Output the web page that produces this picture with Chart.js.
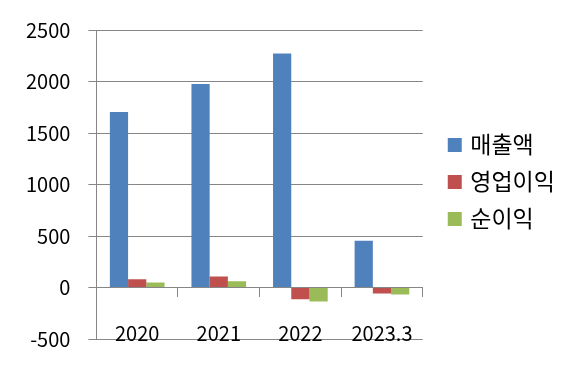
<!DOCTYPE html>
<html>
<head>
<meta charset="utf-8">
<script src="https://cdn.jsdelivr.net/npm/chart.js@4/dist/chart.umd.min.js"></script>
<style>
  html, body { margin: 0; padding: 0; background: #fff; }
  #wrap { width: 580px; height: 369px; }
</style>
</head>
<body>
<div id="wrap"><canvas id="myChart"></canvas></div>
<script>
// chart data
var labels = ["2020", "2021", "2022", "2023.3"];
var sales = [1705, 1975, 2272, 455];
var opProfit = [80, 108, -115, -58];
var netProfit = [48, 60, -135, -67];
var seriesNames = ["매출액", "영업이익", "순이익"];

// excel style colors
var colors = ["#4F81BD", "#C0504D", "#9BBB59"];
var gridColor = "#868686";
var fontFamily = "'Noto Sans CJK KR', sans-serif";

// legend squares: drawn on the right half of a small canvas so
// there is a wider gap between the plot and the legend
function makeSwatch(color) {
  const c = document.createElement("canvas");
  c.width = 30;
  c.height = 14;
  const g = c.getContext("2d");
  g.fillStyle = color;
  g.fillRect(15, 0, 14, 14);
  return c;
}
var swatches = colors.map(makeSwatch);

let chart = document.getElementById("myChart").getContext("2d");

new Chart(chart, {
  type: "bar",
  data: {
    labels: labels,
    datasets: [
      { label: seriesNames[0], data: sales, backgroundColor: colors[0] },
      { label: seriesNames[1], data: opProfit, backgroundColor: colors[1] },
      { label: seriesNames[2], data: netProfit, backgroundColor: colors[2] },
    ],
  },
  options: {
    responsive: true,
    maintainAspectRatio: false,
    animation: false,
    layout: {
      padding: { left: 8, right: 19, top: 19, bottom: 25 },
    },
    datasets: {
      bar: { barPercentage: 1, categoryPercentage: 0.67, borderWidth: 0 },
    },
    plugins: {
      tooltip: { enabled: false },
      legend: {
        position: "right",
        labels: {
          usePointStyle: true,
          pointStyleWidth: 22,
          boxHeight: 14,
          padding: 14,
          color: "#000",
          font: { family: fontFamily, size: 23 },
          generateLabels: function (c) {
            const items = Chart.defaults.plugins.legend.labels.generateLabels(c);
            items.forEach(function (item, i) {
              item.pointStyle = swatches[i];
            });
            return items;
          },
        },
      },
    },
    scales: {
      x: {
        position: { y: 0 },
        grid: {
          offset: true,
          drawOnChartArea: false,
          tickLength: 9,
          color: gridColor,
        },
        border: { color: gridColor },
        ticks: {
          padding: 25,
          color: "#000",
          font: { family: fontFamily, size: 20 },
        },
      },
      y: {
        min: -500,
        max: 2500,
        ticks: {
          stepSize: 500,
          padding: 18,
          color: "#000",
          font: { family: fontFamily, size: 20 },
          // no thousands separator like the original
          callback: function (value) {
            return String(value);
          },
        },
        grid: { color: gridColor, tickLength: 8 },
        border: { color: gridColor },
      },
    },
  },
});
</script>
</body>
</html>
